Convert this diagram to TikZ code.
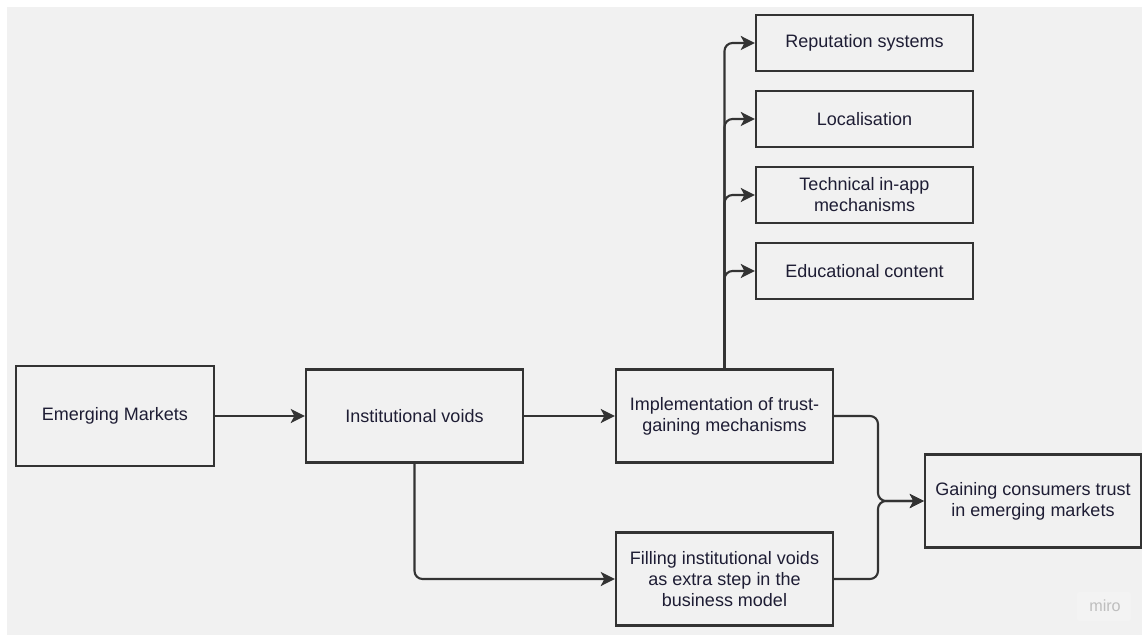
\documentclass[tikz,border=0pt]{standalone}
\usepackage{fontspec}
\setmainfont{Liberation Sans}
\usepackage{tikz}
\usetikzlibrary{arrows.meta}

\begin{document}
\begin{tikzpicture}[x=0.025cm, y=-0.025cm]
      % colours
      \definecolor{bgcolor}{RGB}{241,241,241}
      \definecolor{linecolor}{RGB}{51,51,51}
      \definecolor{textcolor}{RGB}{30,29,52}
      \definecolor{markcolor}{RGB}{190,190,190}

      % styles
      \tikzstyle{box} = [rectangle, draw=linecolor, line width=1.6pt, fill=bgcolor, text=textcolor, align=center, minimum width=5.425cm, minimum height=2.325cm, font=\fontsize{12.8}{15}\selectfont]
      \tikzstyle{smallbox} = [box, minimum height=1.4cm]
      \tikzstyle{link} = [draw=linecolor, line width=1.5pt, rounded corners=0.2cm, -{Stealth[length=10pt, width=10pt, inset=2.5pt]}]

      % background
      \useasboundingbox (0,0) rectangle (1142,635);
      \fill[white] (0,0) rectangle (1142,635);
      \fill[bgcolor] (7,7) rectangle (1142,635);

      % main row
      \node[box, minimum width=4.95cm, minimum height=2.5cm] (markets) at (115, 416) {Emerging Markets};
      \node[box] (voids) at (414.5, 416) {Institutional voids};
      \node[box] (impl) at (724.5, 416) {Implementation of trust-\\gaining mechanisms};
      \node[box] (filling) at (724.5, 579) {Filling institutional voids\\as extra step in the\\business model};
      \node[box, minimum width=5.4cm] (trust) at (1033, 501) {Gaining consumers trust\\in emerging markets};

      % mechanisms
      \node[smallbox] (rep) at (864.5, 43) {Reputation systems};
      \node[smallbox] (local) at (864.5, 119) {Localisation};
      \node[smallbox] (tech) at (864.5, 195) {Technical in-app\\mechanisms};
      \node[smallbox] (edu) at (864.5, 271) {Educational content};

      \coordinate (merge) at (878, 501);

      % connectors
      \draw[link] (markets) -- (voids);
      \draw[link] (voids) -- (impl);
      \draw[link] (voids.south) |- (filling.west);
      \foreach \m in {rep, local, tech, edu}
        \draw[link] (impl.north) |- (\m.west);
      \draw[link] (impl.east) -| (merge) -- (trust.west);
      \draw[link] (filling.east) -| (merge) -- (trust.west);

      % watermark
      \fill[white, opacity=0.2, rounded corners=2pt] (1077, 592) rectangle (1131, 621);
      \node[text=markcolor, font=\fontsize{11.5}{13}\selectfont] (miro) at (1105, 606) {miro};
\end{tikzpicture}
\end{document}
